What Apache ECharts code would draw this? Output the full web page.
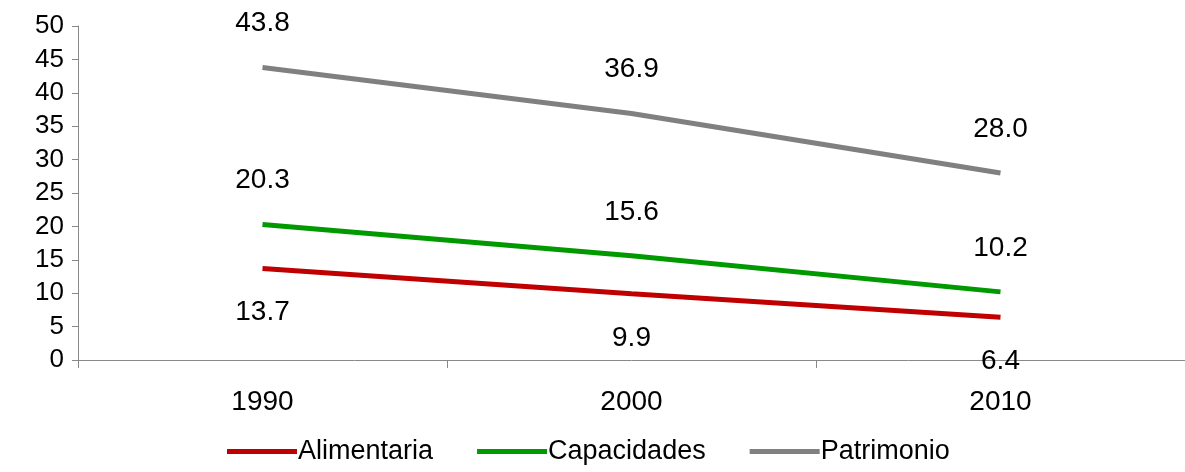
<!DOCTYPE html>
<html>
<head>
<meta charset="utf-8">
<script src="https://cdn.jsdelivr.net/npm/echarts@6/dist/echarts.min.js"></script>
<style>html,body{margin:0;padding:0;background:#fff}#chart{width:1185px;height:472px}</style>
</head>
<body>
<div id="chart"></div>
<script>
var years = ['1990', '2000', '2010'];
var alimentaria = [13.7, 9.9, 6.4];
var capacidades = [20.3, 15.6, 10.2];
var patrimonio = [43.8, 36.9, 28.0];

var myChart = echarts.init(document.getElementById('chart'));
var font = 'Liberation Sans, Arial, sans-serif';

function serie(name, data, color, pos) {
    return {
        name: name,
        type: 'line',
        data: data,
        symbol: 'circle',
        symbolSize: 0,
        lineStyle: { color: color, width: 5 },
        itemStyle: { color: color },
        label: {
            show: true,
            position: pos,
            distance: 30,
            color: '#000',
            fontSize: 28,
            fontFamily: font,
            formatter: function (p) { return p.value.toFixed(1); }
        }
    };
}

var option = {
    animation: false,
    grid: { left: 78, right: 0, top: 26, bottom: 112 },
    legend: {
        bottom: 2,
        left: 222,
        itemWidth: 70,
        itemHeight: 5,
        itemGap: 44,
        icon: 'rect',
        textStyle: { fontSize: 27, fontFamily: font, color: '#000', padding: [0, 0, 0, -4] },
        data: ['Alimentaria', 'Capacidades', 'Patrimonio']
    },
    xAxis: {
        type: 'category',
        data: years,
        boundaryGap: true,
        axisLine: { lineStyle: { color: '#888' } },
        axisTick: { show: true, length: 8, lineStyle: { color: '#888' } },
        axisLabel: { fontSize: 28, fontFamily: font, color: '#000', margin: 28 }
    },
    yAxis: {
        type: 'value',
        min: 0, max: 50, interval: 5,
        splitLine: { show: false },
        axisLine: { show: true, lineStyle: { color: '#888' } },
        axisTick: { show: true, length: 6, lineStyle: { color: '#888' } },
        axisLabel: { fontSize: 26, fontFamily: font, color: '#000', margin: 14 }
    },
    series: [
        serie('Alimentaria', alimentaria, '#c00000', 'bottom'),
        serie('Capacidades', capacidades, '#009900', 'top'),
        serie('Patrimonio', patrimonio, '#808080', 'top')
    ]
};
myChart.setOption(option);
</script>
</body>
</html>
